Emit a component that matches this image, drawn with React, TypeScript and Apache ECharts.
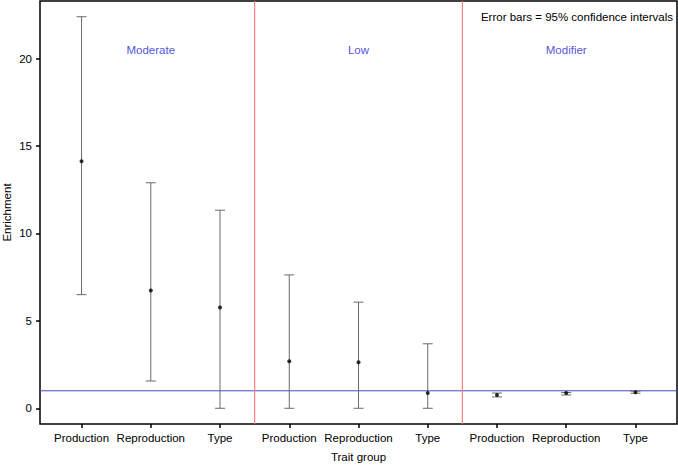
import React, { useEffect, useRef } from "react";
import * as echarts from "echarts";

const categories = ["Production", "Reproduction", "Type", "Production", "Reproduction", "Type", "Production", "Reproduction", "Type"];
const estimates = [14.13, 6.74, 5.77, 2.69, 2.63, 0.87, 0.76, 0.87, 0.91];
const lowerCI = [6.5, 1.56, 0, 0, 0, 0, 0.65, 0.76, 0.86];
const upperCI = [22.4, 12.9, 11.33, 7.63, 6.07, 3.69, 0.87, 0.9, 0.98];
const groupNames = ["Moderate", "Low", "Modifier"];
const groupCenters = [2, 5, 8];
const groupLabelY = 20.5;
const groupDividers = [3.5, 6.5];
const referenceLine = 1;
const yTicks = [0, 5, 10, 15, 20];
const positions = categories.map((_, i) => i + 1);

const FONT = "'Liberation Sans', Arial, Helvetica, sans-serif";
const FS = 11.5;

export default function App() {
  const ref = useRef<HTMLDivElement>(null);
  useEffect(() => {
    const chart = echarts.init(ref.current!, undefined, { renderer: "svg" });
    const errData = positions.map((p, i) => [p, lowerCI[i], upperCI[i]]);
    chart.setOption({
      animation: false,
      textStyle: { fontFamily: FONT },
      grid: {
        left: 40,
        right: 1,
        top: 1,
        bottom: 43,
        containLabel: false,
        outerBoundsMode: "none",
        show: true,
        borderColor: "#000",
        borderWidth: 1.5,
        backgroundColor: "#fff",
      },
      xAxis: {
        type: "value",
        min: 0.4,
        max: 9.6,
        name: "Trait group",
        nameLocation: "middle",
        nameGap: 27,
        nameMoveOverlap: false,
        nameTextStyle: { fontSize: FS, color: "#000", fontFamily: FONT },
        axisLine: { show: false, onZero: false },
        splitLine: { show: false },
        axisTick: { show: true, inside: false, length: 4, customValues: positions, lineStyle: { color: "#000", width: 1.5 } },
        axisLabel: {
          customValues: positions,
          formatter: (v: number) => categories[Math.round(v) - 1] ?? "",
          fontSize: FS,
          color: "#000",
          margin: 8,
          fontFamily: FONT,
        },
      },
      yAxis: {
        type: "value",
        min: -0.9,
        max: 23.3,
        name: "Enrichment",
        nameLocation: "middle",
        nameGap: 27,
        nameMoveOverlap: false,
        nameTextStyle: { fontSize: FS, color: "#000", fontFamily: FONT },
        axisLine: { show: false, onZero: false },
        splitLine: { show: false },
        axisTick: { show: true, inside: false, length: 4, customValues: yTicks, lineStyle: { color: "#000", width: 1.5 } },
        axisLabel: { customValues: yTicks, fontSize: FS, color: "#000", margin: 8, fontFamily: FONT },
      },
      graphic: [
        {
          type: "text",
          right: 5,
          top: 11,
          style: { text: "Error bars = 95% confidence intervals", fontSize: FS, fill: "#000", fontFamily: FONT },
        },
      ],
      series: [
        {
          type: "custom",
          data: [[referenceLine]],
          renderItem: (params: any, api: any) => {
            const cs = params.coordSys;
            const y = api.coord([1, api.value(0)])[1];
            return {
              type: "line",
              shape: { x1: cs.x, y1: y, x2: cs.x + cs.width, y2: y },
              style: { stroke: "#4848c0", lineWidth: 1 },
            };
          },
          encode: { x: -1, y: 0 },
          z: 2,
        },
        {
          type: "custom",
          data: groupDividers.map((d) => [d]),
          renderItem: (params: any, api: any) => {
            const cs = params.coordSys;
            const x = api.coord([api.value(0), 0])[0];
            return {
              type: "line",
              shape: { x1: x, y1: cs.y, x2: x, y2: cs.y + cs.height },
              style: { stroke: "#f08080", lineWidth: 1.2 },
            };
          },
          encode: { x: 0, y: -1 },
          z: 2,
        },
        {
          type: "custom",
          data: errData,
          renderItem: (params: any, api: any) => {
            const x = api.value(0);
            const lo = api.coord([x, api.value(1)]);
            const hi = api.coord([x, api.value(2)]);
            const w = 5;
            const style = { stroke: "#6a6a6a", lineWidth: 1 };
            return {
              type: "group",
              children: [
                { type: "line", shape: { x1: lo[0], y1: lo[1], x2: hi[0], y2: hi[1] }, style },
                { type: "line", shape: { x1: lo[0] - w, y1: lo[1], x2: lo[0] + w, y2: lo[1] }, style },
                { type: "line", shape: { x1: hi[0] - w, y1: hi[1], x2: hi[0] + w, y2: hi[1] }, style },
              ],
            };
          },
          encode: { x: 0, y: [1, 2] },
          z: 3,
        },
        {
          type: "scatter",
          data: positions.map((p, i) => [p, estimates[i]]),
          symbol: "circle",
          symbolSize: 4,
          itemStyle: { color: "#000" },
          z: 4,
        },
        {
          type: "scatter",
          data: groupCenters.map((c, i) => ({ value: [c, groupLabelY], name: groupNames[i] })),
          symbolSize: 0,
          label: {
            show: true,
            position: "inside",
            formatter: (p: any) => p.name,
            color: "#2222cc",
            fontSize: FS,
            fontFamily: FONT,
          },
          z: 5,
        },
      ],
    });
    return () => chart.dispose();
  }, []);
  return <div ref={ref} style={{ width: 678, height: 467, position: "absolute", left: 0, top: 0 }} />;
}
